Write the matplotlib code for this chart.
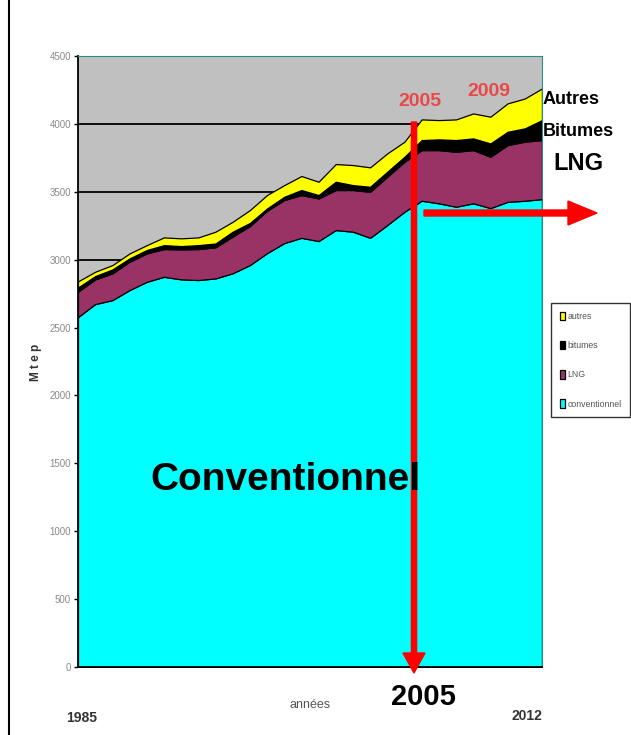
import matplotlib
matplotlib.use("Agg")
import matplotlib.pyplot as plt
from matplotlib.patches import FancyArrow

plt.rcParams['font.family'] = ['Liberation Sans', 'DejaVu Sans']

# données (Mtep)
annees = list(range(1985, 2013))
conventionnel = [2577, 2673, 2702, 2776, 2837, 2874, 2855, 2850, 2862, 2900,
                 2960, 3048, 3122, 3161, 3137, 3218, 3206, 3161, 3255, 3353,
                 3434, 3415, 3390, 3415, 3380, 3426, 3434, 3446]
lng = [187, 182, 197, 209, 209, 204, 221, 228, 229, 270,
       287, 312, 317, 315, 314, 295, 307, 339, 356, 368,
       373, 392, 405, 392, 378, 418, 435, 435]
bitumes = [31, 24, 29, 24, 25, 29, 24, 29, 28, 36,
           23, 17, 24, 37, 25, 61, 36, 37, 37, 37,
           74, 79, 86, 86, 98, 98, 98, 147]
autres = [45, 32, 32, 37, 36, 57, 57, 57, 87, 73,
          95, 99, 86, 103, 98, 130, 148, 143, 135, 111,
          152, 142, 152, 184, 197, 209, 220, 233]
series_noms = ['conventionnel', 'LNG', 'bitumes', 'autres']
couleurs = ['#00FFFF', '#993366', '#000000', '#FFFF00']
yticks = [0, 500, 1000, 1500, 2000, 2500, 3000, 3500, 4000, 4500]

fig = plt.figure(figsize=(6.31, 7.35), dpi=100)
ax = fig.add_axes([0.1236, 0.0925, 0.7353, 0.8313])
ax.set_facecolor('#C0C0C0')

# grille horizontale derrière les aires
for v in yticks[1:-1]:
    ax.axhline(v, color='black', lw=1.3, zorder=1)

polys = ax.stackplot(annees, conventionnel, lng, bitumes, autres,
                     colors=couleurs, labels=series_noms,
                     edgecolor='black', linewidth=0.9, zorder=2)

ax.set_xlim(1985, 2012)
ax.set_ylim(0, 4500)
ax.set_yticks(yticks)
ax.set_yticklabels([str(v) for v in yticks], fontsize=7, color='#8a8a8a')
ax.set_xticks([])
ax.tick_params(axis='y', length=3, width=1, pad=2)
for s in ['top', 'right']:
    ax.spines[s].set_color('#2a8a8a')
    ax.spines[s].set_linewidth(0.8)
ax.spines['left'].set_linewidth(1.3)
ax.spines['bottom'].set_linewidth(1.3)

# légende
handles, labels = ax.get_legend_handles_labels()
leg = fig.legend(handles[::-1], labels[::-1], loc='upper left',
                 bbox_to_anchor=(0.873, 0.588), fontsize=6.3,
                 frameon=True, fancybox=False, edgecolor='black',
                 handlelength=0.6, handleheight=1.1, handletextpad=0.3,
                 labelspacing=2.3, borderpad=1.0, borderaxespad=0)
leg.get_frame().set_linewidth(1.0)
for t in leg.get_texts():
    t.set_color('#555555')

# textes
ax.text(2004.9, 4168, '2005', fontsize=14, fontweight='bold',
        color='#e84848', ha='center', va='center', zorder=5)
ax.text(2008.9, 4241, '2009', fontsize=14, fontweight='bold',
        color='#e84848', ha='center', va='center', zorder=5)
fig.text(150 / 631, 1 - 480 / 735, 'Conventionnel', fontsize=28,
         fontweight='bold', color='black', va='center', zorder=10)
fig.text(543 / 631, 1 - 100 / 735, 'Autres', fontsize=13, fontweight='bold',
         va='center')
fig.text(543 / 631, 1 - 131 / 735, 'Bitumes', fontsize=13, fontweight='bold',
         va='center')
fig.text(553 / 631, 1 - 164 / 735, 'LNG', fontsize=17, fontweight='bold',
         va='center')
fig.text(423 / 631, 1 - 697 / 735, '2005', fontsize=21, fontweight='bold',
         ha='center', va='center')
fig.text(82 / 631, 1 - 718 / 735, '1985', fontsize=10, fontweight='bold',
         color='#333333', ha='center', va='center')
fig.text(527 / 631, 1 - 716 / 735, '2012', fontsize=10, fontweight='bold',
         color='#333333', ha='center', va='center')
fig.text(310 / 631, 1 - 705 / 735, 'années', fontsize=9, color='#555555',
         ha='center', va='center', stretch='condensed')
fig.text(36 / 631, 1 - 362 / 735, 'M t e p', fontsize=8.5, fontweight='bold',
         color='#333333', rotation=90, ha='center', va='center')

# flèches rouges
fig.patches.append(FancyArrow(414 / 631, 1 - 122 / 735, 0, -(673 - 122) / 735,
                              width=6 / 735, head_width=22 / 631,
                              head_length=20 / 735, length_includes_head=True,
                              color='#ff0000', transform=fig.transFigure,
                              zorder=5))
fig.patches.append(FancyArrow(424 / 631, 1 - 213 / 735, (597 - 424) / 631, 0,
                              width=6 / 735, head_width=24 / 735,
                              head_length=29 / 631, length_includes_head=True,
                              color='#ff0000', transform=fig.transFigure,
                              zorder=5))

# bord de page à gauche
fig.add_artist(plt.Line2D([9 / 631, 9 / 631], [0, 1], color='black', lw=1.5,
                          transform=fig.transFigure))

fig.savefig('out.png', dpi=100)
